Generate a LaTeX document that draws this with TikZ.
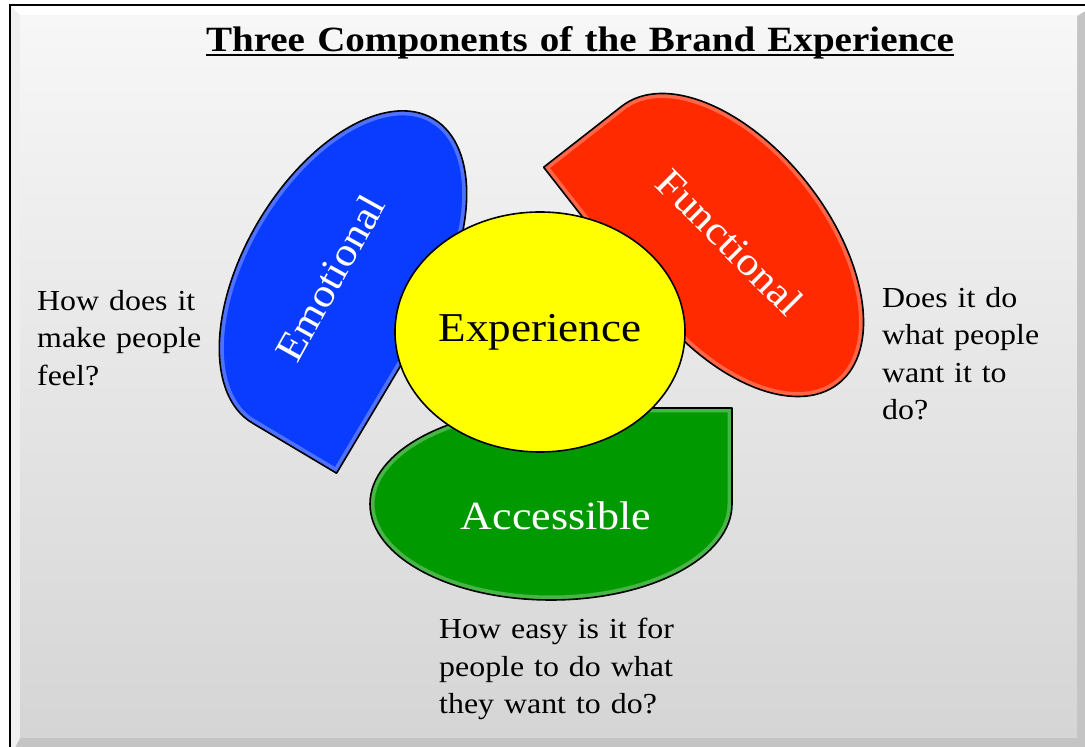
\documentclass[tikz,border=0pt]{standalone}
\usepackage{fontspec}
\setmainfont{Liberation Serif}[FakeStretch=1.1,WordSpace=1.25]
\usetikzlibrary{shapes.geometric}

\definecolor{beBlue}{HTML}{0A3CFF}
\definecolor{beRed}{HTML}{FF2A00}
\definecolor{beGreen}{HTML}{009A00}
\definecolor{beYellow}{HTML}{FFFF00}
\definecolor{beTop}{HTML}{F7F7F7}
\definecolor{beBottom}{HTML}{D5D5D5}
\definecolor{beRim}{HTML}{C4C4C4}

% teardrop: three round quadrants, square corner at (-a,-b)
\newcommand{\teardrop}[2]{(-#1,0) -- (-#1,-#2) -- (0,-#2)
  arc[start angle=-90, end angle=180, x radius=#1pt, y radius=#2pt] -- cycle}

\tikzset{
  petal/.style={draw=black, line width=1.6pt, line join=round},
  bevel/.style={line width=9pt, white, opacity=.28},
  hub/.style={ellipse, draw=black, line width=1.6pt, fill=beYellow,
    minimum width=290pt, minimum height=240pt, inner sep=0pt,
    font=\fontsize{41}{41}\selectfont},
  petaltext/.style={text=white, inner sep=0pt, font=\fontsize{40}{40}\selectfont},
  question/.style={align=left, anchor=north west, inner sep=0pt,
    font=\fontsize{29}{37.5}\selectfont},
  heading/.style={inner sep=0pt, font=\bfseries\fontsize{35.5}{36}\selectfont}
}

\begin{document}
\begin{tikzpicture}[x=1pt, y=1pt]
  \useasboundingbox (0,0) rectangle (1085,747);
  \clip (0,0) rectangle (1085,747);

  % frame with bevelled rim
  \fill[beRim] (10,-10) rectangle (1095,742);
  \fill[white] (10,742) -- (1095,742) -- (1077,731) -- (20,731) -- cycle;
  \fill[gray!12] (10,742) -- (20,731) -- (20,9) -- (10,-10) -- cycle;
  \shade[top color=beTop, bottom color=beBottom] (20,9) rectangle (1077,731);
  \draw[black, line width=2pt] (10,-10) -- (10,742) -- (1095,742);

  \node[heading, anchor=base] (title) at (580,695) {Three Components of the Brand Experience};
  \draw[line width=1.4pt] ([yshift=-3pt]title.base west) -- ([yshift=-3pt]title.base east);

  % emotional
  \begin{scope}[shift={(343,476)}, rotate=59.2]
    \fill[beBlue] \teardrop{177}{98};
    \begin{scope}
      \clip \teardrop{177}{98};
      \draw[bevel] \teardrop{177}{98};
    \end{scope}
    \draw[petal] \teardrop{177}{98};
  \end{scope}
  \node[petaltext, rotate=61] (emo) at (330,469) {Emotional};

  % functional
  \begin{scope}[shift={(730,502)}, rotate=-52]
    \fill[beRed] \teardrop{176}{99};
    \begin{scope}
      \clip \teardrop{176}{99};
      \draw[bevel] \teardrop{176}{99};
    \end{scope}
    \draw[petal] \teardrop{176}{99};
  \end{scope}
  \node[petaltext, rotate=-45] (func) at (730,505) {Functional};

  % accessible
  \begin{scope}[shift={(551,243)}, rotate=180]
    \fill[beGreen] \teardrop{181}{96};
    \begin{scope}
      \clip \teardrop{181}{96};
      \draw[bevel] \teardrop{181}{96};
    \end{scope}
    \draw[petal] \teardrop{181}{96};
  \end{scope}
  \node[petaltext, anchor=base] (acc) at (556,217) {Accessible};

  \node[hub] (exp) at (540,415) {Experience};

  \node[question] (qemo) at (37,457) {How does it\\make people\\feel?};
  \node[question] (qfunc) at (882,460) {Does it do\\what people\\want it to\\do?};
  \node[question] (qacc) at (439,129) {How easy is it for\\people to do what\\they want to do?};
\end{tikzpicture}
\end{document}
